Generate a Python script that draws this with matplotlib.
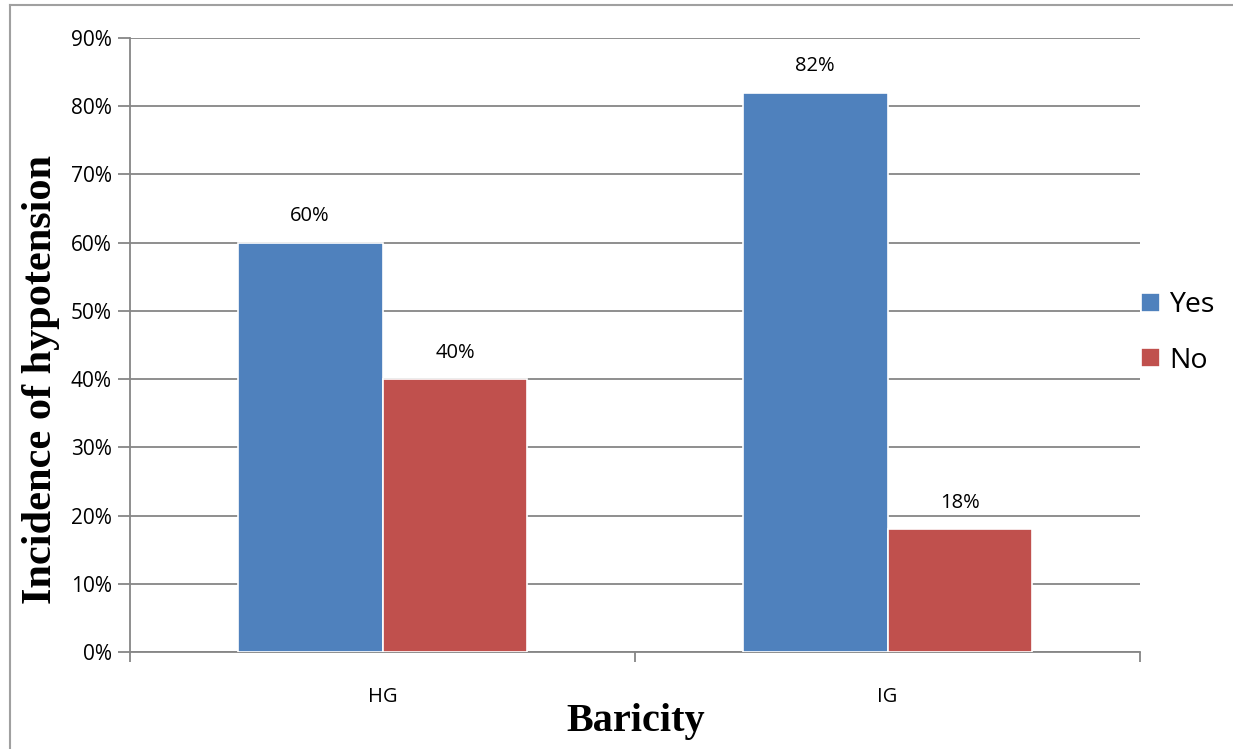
import numpy as np
import matplotlib.pyplot as plt
from matplotlib.lines import Line2D

# data
groups = ['HG', 'IG']
yes_vals = [60, 82]
no_vals = [40, 18]
series_names = ['Yes', 'No']

blue = '#4F81BD'
red = '#C0504D'
grid_col = '#868686'

fig = plt.figure(figsize=(12.33, 7.49), dpi=100)
ax = fig.add_axes([130/1233, 1-652/749, 1010/1233, 614/749])

x = np.arange(len(groups))
w = 0.287
b1 = ax.bar(x - w/2, yes_vals, w, color=blue, edgecolor='white', linewidth=1.2, label=series_names[0], zorder=3)
b2 = ax.bar(x + w/2, no_vals, w, color=red, edgecolor='white', linewidth=1.2, label=series_names[1], zorder=3)

# value labels above bars
for bars, vals in ((b1, yes_vals), (b2, no_vals)):
    for r, v in zip(bars, vals):
        ax.text(r.get_x() + r.get_width()/2, v + 2.4, f'{v}%', ha='center', va='bottom',
                fontsize=14.5, family='Open Sans')

ax.set_xlim(-0.5, 1.5)
ax.set_ylim(0, 90)
ax.set_yticks(np.arange(0, 91, 10))
ax.set_yticklabels([f'{t}%' for t in range(0, 91, 10)], family='Open Sans', fontsize=15)
ax.yaxis.grid(True, color=grid_col, linewidth=1.3, zorder=0)
ax.tick_params(axis='y', length=9, color=grid_col, width=1.3, pad=4)

# category boundary ticks on x axis, labels at centres
ax.set_xticks([-0.5, 0.5, 1.5])
ax.set_xticklabels([])
ax.tick_params(axis='x', length=7, color=grid_col, width=1.3)
for xi, g in zip(x, groups):
    ax.text(xi, -6.6, g, ha='center', va='center', fontsize=14.5, family='Open Sans')

for s in ['top', 'right']:
    ax.spines[s].set_visible(False)
ax.spines['left'].set_color(grid_col)
ax.spines['bottom'].set_color(grid_col)
ax.spines['left'].set_linewidth(1.3)
ax.spines['bottom'].set_linewidth(1.3)

# axis titles placed in figure pixels
fig.text(41/1233, 1-380/749, 'Incidence of hypotension', rotation=90, ha='center', va='center',
         family='Liberation Serif', fontweight='bold', fontsize=30.5)
fig.text(636/1233, 1-722/749, 'Baricity', ha='center', va='center',
         family='Liberation Serif', fontweight='bold', fontsize=29)

leg = fig.legend(handles=[b1, b2], labels=series_names, loc='center left',
                 bbox_to_anchor=(1141/1233, 1-333/749), frameon=False, borderaxespad=0, borderpad=0,
                 prop={'family': 'Open Sans', 'size': 20.5}, handlelength=0.65, handleheight=0.65,
                 handletextpad=0.35, labelspacing=0.95)

# outer frame of the chart area
fig.add_artist(Line2D([10/1233, 10/1233], [0, 1-5/749], color='#a0a0a0', linewidth=1.5))
fig.add_artist(Line2D([10/1233, 1], [1-5/749, 1-5/749], color='#a0a0a0', linewidth=1.5))

plt.savefig('out.png', dpi=100)
